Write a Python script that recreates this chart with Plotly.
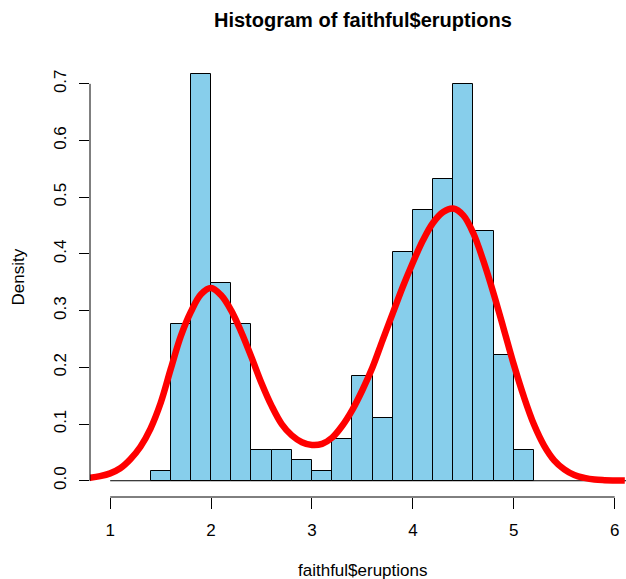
import plotly.graph_objects as go

# Histogram data (R default hist of faithful$eruptions, breaks every 0.2)
breaks = [1.4, 1.6, 1.8, 2.0, 2.2, 2.4, 2.6, 2.8, 3.0, 3.2, 3.4, 3.6, 3.8,
          4.0, 4.2, 4.4, 4.6, 4.8, 5.0, 5.2]
density = [0.018, 0.276, 0.717, 0.349, 0.276, 0.055, 0.055, 0.037, 0.018,
           0.074, 0.184, 0.110, 0.404, 0.478, 0.533, 0.699, 0.441, 0.221, 0.055]

# Kernel density curve
kde_x = [0.6, 0.7, 0.8, 0.9, 1.0, 1.1, 1.2, 1.3, 1.4, 1.5, 1.6, 1.7, 1.8, 1.9,
         2.0, 2.1, 2.2, 2.3, 2.4, 2.5, 2.6, 2.7, 2.8, 2.9, 3.0, 3.1, 3.2, 3.3,
         3.4, 3.5, 3.6, 3.7, 3.8, 3.9, 4.0, 4.1, 4.2, 4.3, 4.4, 4.5, 4.6, 4.7,
         4.8, 4.9, 5.0, 5.1, 5.2, 5.3, 5.4, 5.5, 5.6, 5.7, 5.8, 5.9, 6.0, 6.1]
kde_y = [0.002, 0.003, 0.005, 0.008, 0.013, 0.022, 0.038, 0.060, 0.092, 0.137,
         0.197, 0.255, 0.298, 0.329, 0.340, 0.327, 0.300, 0.262, 0.218, 0.172,
         0.132, 0.100, 0.080, 0.068, 0.063, 0.065, 0.076, 0.097, 0.125, 0.160,
         0.200, 0.248, 0.295, 0.342, 0.385, 0.424, 0.455, 0.474, 0.480, 0.468,
         0.436, 0.387, 0.330, 0.268, 0.205, 0.148, 0.099, 0.062, 0.036, 0.020,
         0.010, 0.005, 0.002, 0.001, 0.0005, 0.0002]

x_ticks = [1, 2, 3, 4, 5, 6]
y_ticks = [0.0, 0.1, 0.2, 0.3, 0.4, 0.5, 0.6, 0.7]

FONT = "Liberation Sans, Arial, Helvetica, sans-serif"

mids = [(a + b) / 2 for a, b in zip(breaks[:-1], breaks[1:])]
widths = [b - a for a, b in zip(breaks[:-1], breaks[1:])]

fig = go.Figure()
fig.add_trace(go.Bar(
    x=mids, y=density, width=widths,
    marker=dict(color="#87CEEB", line=dict(color="black", width=1)),
    hoverinfo="skip", showlegend=False))
fig.add_trace(go.Scatter(
    x=kde_x, y=kde_y, mode="lines",
    line=dict(color="#FF0000", width=6.5, shape="spline"),
    hoverinfo="skip", showlegend=False))

# baseline at zero
fig.add_shape(type="line", xref="x", yref="y", x0=1, x1=6.2, y0=0, y1=0,
              line=dict(color="black", width=1), layer="below")
# R-style axis lines spanning first to last tick
fig.add_shape(type="line", xref="x", yref="paper", x0=x_ticks[0], x1=x_ticks[-1],
              y0=0, y1=0, line=dict(color="black", width=1))
fig.add_shape(type="line", xref="paper", yref="y", x0=0, x1=0,
              y0=y_ticks[0], y1=y_ticks[-1], line=dict(color="black", width=1))

fig.update_layout(
    width=626, height=579,
    margin=dict(l=90, r=0, t=58, b=82),
    plot_bgcolor="white", paper_bgcolor="white",
    bargap=0,
    font=dict(family=FONT, size=17, color="black"),
    xaxis=dict(range=[0.8, 6.112], showgrid=False, zeroline=False, showline=False,
               tickmode="array", tickvals=x_ticks, ticktext=[str(v) for v in x_ticks],
               ticks="outside", ticklen=11, tickwidth=1, tickcolor="black",
               ticklabelstandoff=7, tickfont=dict(size=17)),
    yaxis=dict(range=[-0.02868, 0.74556], showgrid=False, zeroline=False, showline=False,
               tickmode="array", tickvals=y_ticks, ticktext=[f"{v:.1f}" for v in y_ticks],
               ticks="outside", ticklen=10, tickwidth=1, tickcolor="black",
               ticklabelstandoff=6, tickangle=-90, tickfont=dict(size=17)),
    annotations=[
        dict(text="<b>Histogram of faithful$eruptions</b>", xref="paper", yref="paper",
             x=(362.6 - 90) / 536, y=1, yshift=38, xanchor="center", yanchor="middle",
             showarrow=False, font=dict(size=20, family=FONT)),
        dict(text="faithful$eruptions", xref="paper", yref="paper",
             x=(362.6 - 90) / 536, y=0, yshift=-73, xanchor="center", yanchor="middle",
             showarrow=False, font=dict(size=17, family=FONT)),
        dict(text="Density", xref="paper", yref="paper",
             x=0, xshift=-72, y=0.5, xanchor="center", yanchor="middle",
             textangle=-90, showarrow=False, font=dict(size=17, family=FONT)),
    ],
)

fig.write_html("out.html")
